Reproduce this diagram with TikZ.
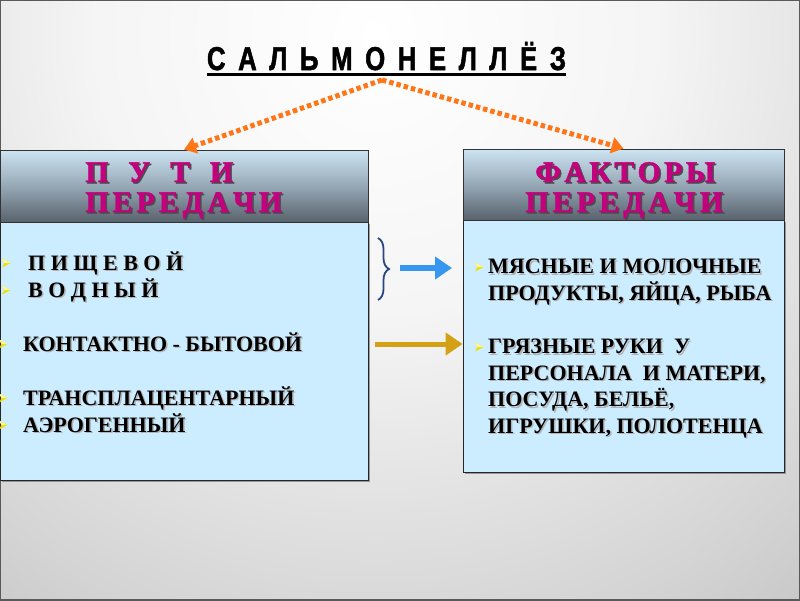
\documentclass[tikz,border=0pt]{standalone}
\usepackage{fontspec}
\setmainfont{Liberation Serif}
\newfontfamily\titlefont{Liberation Sans}[FakeStretch=0.78, BoldFeatures={FakeBold=1.5}]
\newfontfamily\headfont{Liberation Serif}[BoldFeatures={FakeBold=1.2}]
\usetikzlibrary{arrows.meta,decorations.pathreplacing,shadows}

\definecolor{bodyblue}{RGB}{204,236,255}
\definecolor{headtop}{RGB}{205,228,242}
\definecolor{headmid}{RGB}{150,168,182}
\definecolor{headbot}{RGB}{88,98,108}
\definecolor{magen}{RGB}{195,0,125}
\definecolor{orng}{RGB}{255,118,25}
\definecolor{bluearr}{RGB}{55,150,240}
\definecolor{goldarr}{RGB}{212,160,20}
\definecolor{bracecol}{RGB}{40,70,130}
\definecolor{bulletcol}{RGB}{238,222,0}
\definecolor{bulletlight}{RGB}{255,248,150}

\pgfdeclareradialshading{bgshade}{\pgfpoint{0bp}{0bp}}{color(0bp)=(white); color(5bp)=(white!96!black); color(11bp)=(white!83!black); color(14.5bp)=(white!74!black); color(19.3bp)=(white!67!black); color(24.6bp)=(white!56!black); color(50bp)=(white!54!black)}

\newcommand\shd[2][black!30]{\rlap{\hspace{1.5pt}\raisebox{-1.5pt}{\textcolor{#1}{#2}}}#2}

\tikzset{
  headbox/.style={draw=black!80, line width=0.8pt, inner sep=0pt, top color=headtop, bottom color=headbot, middle color=headmid},
  bodybox/.style={draw=black!85, line width=0.8pt, fill=bodyblue, inner sep=0pt,
     drop shadow={shadow xshift=1.5pt, shadow yshift=-2pt, opacity=0.6, fill=black!60}},
  headtext/.style={anchor=base west, inner sep=0pt, text=magen, font=\headfont\fontsize{30}{33}\selectfont\bfseries},
  item/.style={anchor=base west, inner sep=0pt, text=black, font=\fontsize{22}{26}\selectfont\bfseries},
  bulletpic/.pic={
    \fill[bulletcol] (-4,-4.5) -- (4.5,0) -- (-4,4.5) -- (-1.5,0) -- cycle;
    \fill[bulletlight] (-4,-4.5) -- (4.5,0) -- (-1.5,0) -- cycle;
  },
  dotarrow/.style={draw=orng, line width=5pt, dash pattern=on 4.5pt off 3pt, -{Triangle[length=12pt,width=16pt]}},
  bigarrow/.style={line width=6pt, -{Triangle[length=17pt,width=22pt]}},
}

\begin{document}
\begin{tikzpicture}[x=1pt,y=-1pt]
\useasboundingbox (0,0) rectangle (800,600);
\begin{scope}
  \clip (0,0) rectangle (800,600);
  \shade[shading=bgshade] (375,35) circle (1400pt);
\end{scope}
\draw[black!65, line width=1.5pt] (0,0) rectangle (800,600);

% title
\node[anchor=base, inner sep=0pt, font=\titlefont\fontsize{33}{36}\selectfont\bfseries] (title) at (386.5,70)
  {\makebox[359pt][s]{С\hfill А\hfill Л\hfill Ь\hfill М\hfill О\hfill Н\hfill Е\hfill Л\hfill Л\hfill Ё\hfill З}};
\draw[line width=3pt] (207,74) -- (566,74);
\coordinate (apex) at (382,80);

% left box
\node[bodybox, minimum width=368pt, minimum height=258pt] (lbody) at (184,351) {};
\node[headbox, minimum width=368pt, minimum height=72pt] (lhead) at (184,186) {};
\node[headtext] (lh1) at (85,182) {\shd[black!70]{\makebox[148pt][s]{П\hfill У\hfill Т\hfill И}}};
\node[headtext] (lh2) at (85,212) {\shd[black!70]{\makebox[197pt][s]{П\hfill Е\hfill Р\hfill Е\hfill Д\hfill А\hfill Ч\hfill И}}};

% right box
\node[bodybox, minimum width=321pt, minimum height=252pt] (rbody) at (623.5,346) {};
\node[headbox, minimum width=321pt, minimum height=71pt] (rhead) at (623.5,184.5) {};
\node[headtext] (rh1) at (535,182) {\shd[black!70]{\makebox[180pt][s]{Ф\hfill А\hfill К\hfill Т\hfill О\hfill Р\hfill Ы}}};
\node[headtext] (rh2) at (525,212) {\shd[black!70]{\makebox[198pt][s]{П\hfill Е\hfill Р\hfill Е\hfill Д\hfill А\hfill Ч\hfill И}}};

% orange dotted arrows
\draw[dotarrow] (apex) -- (lhead.north);
\draw[dotarrow] (apex) -- (rhead.north);

% left items
\pic (lb1) at (6,263) {bulletpic};
\node[item] (li1) at (28,270) {\shd{П И Щ Е В О Й}};
\pic (lb2) at (6,290) {bulletpic};
\node[item] (li2) at (28,297) {\shd{В О Д Н Ы Й}};
\pic (lb3) at (3,344) {bulletpic};
\node[item] (li3) at (23,351) {\shd{КОНТАКТНО - БЫТОВОЙ}};
\pic (lb4) at (3,398) {bulletpic};
\node[item] (li4) at (23,405) {\shd{ТРАНСПЛАЦЕНТАРНЫЙ}};
\pic (lb5) at (3,425) {bulletpic};
\node[item] (li5) at (23,432) {\shd{АЭРОГЕННЫЙ}};

% right items
\pic (rb1) at (479,267) {bulletpic};
\node[item] (ri1) at (488,273.5) {\shd{МЯСНЫЕ И МОЛОЧНЫЕ}};
\node[item] (ri2) at (488,300) {\shd{ПРОДУКТЫ, ЯЙЦА, РЫБА}};
\pic (rb2) at (479,347) {bulletpic};
\node[item] (ri3) at (488,353.5) {\shd{ГРЯЗНЫЕ РУКИ \ У}};
\node[item] (ri4) at (488,380) {\shd{ПЕРСОНАЛА \ И МАТЕРИ,}};
\node[item] (ri5) at (488,406.5) {\shd{ПОСУДА, БЕЛЬЁ,}};
\node[item] (ri6) at (488,433) {\shd{ИГРУШКИ, ПОЛОТЕНЦА}};

% brace and arrows
\coordinate (brtop) at (378,238);
\coordinate (brbot) at (378,300);
\draw[bracecol, line width=1.8pt, decorate, decoration={brace, amplitude=11pt}] (brtop) -- (brbot);
\coordinate (bluefrom) at (400,268);
\coordinate (blueto) at (452,268);
\draw[bigarrow, bluearr] (bluefrom) -- (blueto);
\coordinate (goldfrom) at (375,344);
\draw[bigarrow, goldarr, line width=5pt] (goldfrom) -- (rbody.west |- goldfrom);
\end{tikzpicture}
\end{document}
